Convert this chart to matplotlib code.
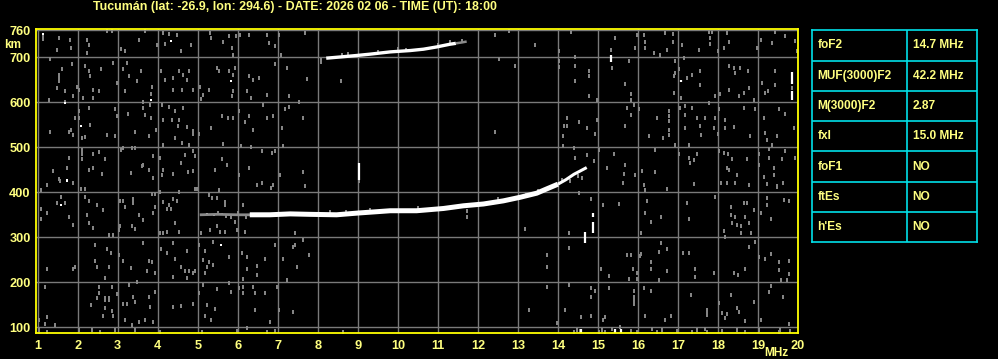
import numpy as np
import matplotlib
matplotlib.use("Agg")
import matplotlib.pyplot as plt

# Data
title = "Tucumán (lat: -26.9, lon: 294.6) - DATE: 2026 02 06 - TIME (UT): 18:00"
freq_ticks = list(range(1, 21))
km_ticks = [100, 200, 300, 400, 500, 600, 700, 760]

# main F2 echo (frequency MHz, virtual height km)
f2_freq = [6.3, 6.8, 7.31, 7.8, 8.47, 9.02, 9.5, 9.81, 10.47, 11.14, 11.64, 12.14, 12.64, 13.06, 13.47, 13.68, 14.0]
f2_km = [350, 350, 352, 351, 350, 354, 357, 359, 359, 364, 370, 374, 381, 389, 398, 406, 418]
f2_tip_freq = [14.0, 14.2, 14.4, 14.55, 14.72]
f2_tip_km = [418, 428, 440, 447, 455]
f2_tail_freq = [5.05, 5.5, 6.0, 6.35]
f2_tail_km = [350, 351, 350, 350]

# second hop echo
hop2_freq = [8.21, 8.6, 8.97, 9.31, 9.81, 10.31, 10.64, 10.97, 11.3, 11.45]
hop2_km = [698, 701, 704, 707, 712, 715, 718, 723, 729, 731]
hop2_tail_freq = [11.45, 11.6, 11.72]
hop2_tail_km = [731, 733, 735]

# short vertical white echoes
bar_freq = [9.02, 14.87, 14.87, 14.68, 15.32, 17.08, 19.85, 19.85, 14.58, 15.43, 15.58]
bar_low = [428, 344, 309, 287, 690, 644, 640, 606, 88, 88, 88]
bar_high = [465, 355, 335, 312, 705, 650, 668, 625, 97, 97, 97]

# gray interference speckles
noise = [
    (1.12, 750), (1.12, 740), (1.52, 743), (1.81, 739), (1.83, 721), (1.47, 717), (2.22, 739), (2.27, 728),
    (2.22, 710), (2.72, 759), (2.85, 759), (3.68, 759), (3.08, 719), (3.18, 713), (3.52, 739), (3.97, 728),
    (4.14, 754), (4.27, 752), (4.47, 749), (4.18, 730), (4.58, 713), (4.83, 728), (5.31, 754), (5.33, 743),
    (5.64, 735), (5.77, 747), (6.06, 750), (6.27, 750), (6.72, 750), (6.77, 732), (6.93, 724), (7.02, 749),
    (7.08, 706), (5.96, 747), (5.85, 721), (5.89, 706),
    (1.31, 697), (1.6, 673), (1.53, 661), (1.53, 654), (1.53, 647), (1.47, 632), (1.67, 624), (1.85, 685),
    (1.97, 635), (2.02, 628), (1.89, 613), (2.18, 680), (2.27, 669), (2.31, 658), (2.39, 628), (2.52, 624),
    (2.39, 610), (2.14, 610), (1.27, 606), (1.68, 601), (2.58, 673), (2.87, 687), (2.97, 643), (3.14, 673),
    (3.22, 687), (3.27, 658), (3.47, 648), (3.58, 669), (3.18, 624), (3.85, 635), (3.83, 618), (3.64, 601),
    (4.08, 670), (4.18, 650), (4.39, 654), (4.53, 670), (4.64, 661), (4.72, 650), (4.77, 669), (4.38, 628),
    (4.6, 628), (4.87, 628), (5.06, 635), (5.08, 608), (5.27, 628), (5.14, 617), (5.47, 676), (5.52, 669),
    (5.78, 669), (5.89, 661), (5.89, 624), (5.85, 613), (5.93, 676), (6.27, 658), (6.39, 650), (6.52, 654),
    (6.22, 624), (6.33, 610), (6.72, 617), (6.92, 685), (7.22, 676), (7.27, 613),
    (2.02, 580), (2.02, 565), (1.93, 565), (1.77, 535), (1.83, 539), (1.31, 535), (1.87, 527), (2.1, 521),
    (2.18, 522), (2.31, 550), (2.27, 587), (2.72, 527), (2.93, 526), (2.93, 584), (2.97, 569), (3.25, 574),
    (3.43, 534), (3.64, 587), (3.68, 572), (3.83, 565), (3.77, 524), (3.95, 539), (3.81, 593), (4.1, 593),
    (4.27, 589), (4.14, 561), (4.35, 561), (4.52, 561), (4.43, 580), (4.64, 587), (4.5, 547), (4.72, 545),
    (4.89, 529), (5.02, 529), (4.87, 537), (4.43, 521), (4.6, 510), (4.14, 504), (4.78, 504), (5.32, 543),
    (5.6, 569), (5.75, 565), (5.89, 565), (6.03, 580), (6.29, 569), (6.18, 556), (6.39, 539), (6.64, 593),
    (6.74, 565), (6.89, 569), (7.1, 543), (7.18, 584), (7.28, 589), (5.64, 507), (6.08, 502), (6.33, 500),
    (7.12, 502),
    (2.1, 495), (2.1, 485), (2.1, 475), (1.77, 476), (1.37, 447), (1.72, 454), (1.54, 430), (2.39, 484),
    (2.52, 490), (2.68, 475), (2.39, 454), (2.6, 441), (2.27, 450), (3.08, 493), (3.14, 498), (3.35, 498),
    (3.43, 498), (3.89, 481), (4.06, 476), (3.77, 450), (3.64, 460), (4.14, 450), (4.39, 441), (4.58, 465),
    (4.68, 482), (4.89, 491), (4.92, 480), (4.75, 445), (4.89, 447), (5.6, 473), (5.72, 461), (5.43, 450),
    (6.02, 439), (6.27, 454), (6.6, 491), (6.85, 487), (6.93, 491), (7.06, 439), (3.89, 432), (4.1, 439),
    (3.33, 443), (3.6, 458),
    (7.68, 754), (7.72, 652), (8.08, 695), (8.08, 690), (8.58, 648), (7.53, 601), (7.62, 565), (7.62, 445),
    (12.43, 750), (12.78, 759), (13.43, 728), (12.53, 696), (12.93, 680), (12.43, 534),
    (14.33, 756), (14.02, 713), (14.02, 691), (14.02, 678), (14.43, 700), (14.43, 680), (14.43, 647),
    (14.77, 669), (14.77, 658), (14.78, 615), (14.97, 604), (15.32, 717), (15.35, 676), (15.43, 743),
    (15.68, 641), (15.78, 691), (15.83, 618), (15.83, 606), (15.93, 721), (15.97, 750), (16.14, 750),
    (16.18, 735), (16.18, 721), (16.39, 710), (16.56, 706), (16.68, 754), (16.72, 717), (16.87, 752),
    (16.87, 735), (16.93, 691), (16.89, 658), (16.93, 665), (16.89, 621), (17.02, 673), (17.1, 728),
    (17.14, 698), (17.08, 610), (17.22, 654), (17.35, 661), (17.56, 669), (17.56, 639), (17.52, 717),
    (17.77, 757), (17.79, 743), (17.79, 729), (17.85, 757), (18.0, 713), (18.14, 721), (18.22, 754),
    (18.27, 735), (18.27, 680), (18.39, 676), (18.43, 665), (18.56, 676), (18.64, 621), (18.52, 613),
    (18.77, 632), (18.75, 669), (18.89, 606), (18.97, 721), (19.08, 739), (19.1, 643), (19.18, 621),
    (19.25, 624), (19.35, 732), (19.43, 757), (19.43, 669), (19.43, 638), (19.68, 747), (19.93, 737),
    (19.97, 715), (18.04, 618), (18.27, 628), (17.93, 613), (19.85, 632),
    (14.22, 565), (14.14, 547), (14.22, 547), (14.12, 524), (14.12, 502), (14.52, 556), (14.72, 543),
    (14.93, 529), (14.97, 561), (15.68, 547), (15.72, 587), (15.83, 572), (15.89, 595), (16.02, 584),
    (16.27, 524), (16.47, 565), (16.62, 521), (16.77, 581), (16.77, 569), (16.77, 558), (16.78, 539),
    (16.78, 527), (16.93, 506), (17.06, 587), (17.18, 591), (17.18, 571), (17.35, 587), (17.27, 506),
    (17.17, 543), (17.47, 565), (17.56, 547), (17.58, 528), (17.68, 565), (17.77, 598), (17.89, 543),
    (17.93, 565), (18.0, 530), (18.02, 584), (18.18, 561), (18.18, 543), (18.39, 545), (18.64, 587),
    (18.81, 524), (18.93, 584), (19.14, 565), (19.18, 532), (19.22, 517), (19.35, 506), (19.47, 524),
    (19.52, 584), (19.68, 574), (19.89, 543),
    (14.39, 498), (14.43, 476), (14.72, 482), (14.89, 469), (15.02, 495), (15.22, 454), (15.39, 485),
    (15.67, 460), (15.64, 441), (15.93, 439), (16.1, 447), (16.43, 495), (16.43, 445), (17.02, 484),
    (17.27, 476), (17.31, 465), (17.39, 472), (17.47, 484), (18.02, 491), (18.14, 487), (18.25, 484),
    (18.35, 473), (18.22, 454), (18.27, 450), (18.47, 439), (18.72, 473), (19.02, 485), (19.27, 497),
    (19.27, 476), (19.02, 461), (19.14, 433), (19.39, 454), (19.6, 473), (19.68, 491), (19.93, 476),
    (19.39, 439),
    (1.56, 424), (1.22, 416), (1.08, 404), (1.87, 420), (2.08, 407), (2.18, 407), (1.58, 390), (1.68, 377),
    (1.47, 376), (2.17, 390), (2.27, 381), (2.47, 372), (2.64, 361), (2.22, 350), (1.08, 362), (1.22, 353),
    (1.08, 340), (1.77, 344), (1.87, 327), (2.27, 332), (2.39, 320), (2.77, 305), (2.89, 305), (3.06, 324),
    (3.02, 316), (3.18, 368), (3.06, 381), (3.14, 381), (3.37, 384), (3.37, 376), (3.53, 350), (3.35, 324),
    (3.43, 318), (3.64, 338), (3.87, 353), (3.93, 368), (3.85, 396), (3.93, 396), (4.06, 401), (4.12, 379),
    (4.22, 362), (4.33, 362), (4.27, 372), (4.39, 384), (4.47, 381), (4.53, 401), (4.43, 331), (4.22, 312),
    (4.06, 310), (4.14, 310), (4.53, 312), (4.93, 407), (4.98, 407), (5.27, 394), (5.35, 387), (5.47, 387),
    (5.52, 405), (5.68, 379), (5.68, 372), (5.08, 309), (5.31, 316), (5.47, 324), (5.56, 312), (5.68, 312),
    (5.83, 346), (5.93, 335), (5.97, 316), (6.14, 372), (6.18, 312), (6.47, 416), (6.6, 420), (6.87, 416),
    (6.83, 409),
    (2.43, 283), (2.72, 273), (2.83, 266), (2.43, 248), (2.47, 233), (2.77, 233), (2.68, 210), (3.02, 261),
    (3.14, 248), (3.33, 231), (3.47, 201), (3.62, 288), (3.77, 248), (3.85, 244), (3.72, 226), (3.93, 221),
    (4.08, 273), (4.22, 266), (4.38, 288), (4.43, 251), (4.58, 235), (4.72, 270), (4.67, 226), (4.72, 209),
    (4.78, 226), (4.89, 221), (4.93, 226), (4.38, 212), (5.03, 283), (5.18, 270), (5.12, 250), (5.22, 233),
    (5.37, 290), (5.27, 244), (5.39, 238), (5.18, 221), (5.77, 257), (6.1, 266), (6.22, 256), (6.22, 229),
    (6.14, 207), (6.47, 216), (6.47, 236), (6.68, 251), (6.93, 283), (7.14, 251), (7.22, 204), (1.22, 229),
    (1.92, 233), (1.89, 229),
    (1.18, 190), (2.52, 189), (2.85, 189), (2.52, 177), (2.68, 142), (2.85, 137), (2.89, 124), (2.64, 125),
    (2.33, 150), (2.47, 164), (2.97, 174), (3.14, 152), (3.22, 152), (3.37, 168), (3.43, 157), (3.29, 194),
    (3.77, 168), (3.81, 144), (3.93, 179), (3.18, 116), (3.35, 105), (3.52, 112), (3.68, 116), (3.89, 112),
    (4.39, 144), (4.58, 147), (4.89, 152), (5.02, 177), (5.12, 194), (5.22, 150), (5.18, 125), (5.33, 116),
    (5.43, 140), (5.47, 184), (5.83, 179), (5.78, 198), (6.02, 187), (6.14, 189), (6.14, 176), (6.39, 189),
    (6.43, 177), (6.68, 177), (6.97, 189), (6.43, 138), (6.81, 112), (7.02, 138), (1.22, 122), (1.02, 116),
    (1.18, 107), (1.43, 105), (1.02, 96), (1.02, 90), (1.22, 90), (2.02, 94), (2.35, 95), (2.56, 90),
    (2.93, 95), (3.43, 95), (4.06, 90), (5.1, 90), (5.97, 92), (6.22, 98), (6.72, 90), (6.93, 92),
    (2.68, 164), (2.78, 164), (2.68, 160), (2.78, 160),
    (7.68, 413), (9.02, 425), (7.43, 310), (7.62, 295), (7.39, 279), (7.43, 283), (7.78, 261), (7.47, 235),
    (7.37, 135), (8.62, 90), (11.72, 359), (11.72, 346), (13.18, 318), (13.27, 138),
    (15.62, 421), (16.14, 416), (16.18, 404), (16.72, 407), (17.39, 418), (18.08, 421), (18.22, 421),
    (18.42, 421), (18.78, 416), (19.22, 418), (19.47, 411), (19.62, 421), (14.52, 398), (14.83, 385),
    (15.12, 372), (15.53, 374), (16.22, 381), (16.18, 355), (16.33, 333), (16.58, 346), (16.08, 309),
    (17.22, 377), (17.28, 341), (17.93, 390), (18.33, 368), (18.33, 350), (18.43, 344), (18.35, 331),
    (18.47, 327), (18.64, 376), (18.72, 377), (18.68, 346), (18.89, 361), (18.78, 331), (18.58, 324),
    (18.14, 315), (18.58, 310), (18.83, 310), (19.08, 353), (19.33, 341), (19.22, 387), (19.22, 372),
    (19.47, 413), (19.64, 383), (19.78, 381), (18.93, 290), (18.78, 279), (18.18, 301), (14.27, 310),
    (14.28, 276), (13.72, 261), (13.72, 235), (15.72, 261), (15.83, 261), (16.04, 258), (16.08, 263),
    (16.33, 246), (16.33, 229), (16.53, 268), (16.58, 288), (16.72, 275), (16.72, 226), (15.87, 229),
    (15.97, 220), (15.28, 214), (15.08, 229), (15.77, 207), (15.97, 207), (16.53, 204), (17.12, 266),
    (17.28, 266), (17.43, 229), (17.43, 212), (17.89, 221), (18.39, 221), (18.5, 216), (18.68, 229),
    (19.02, 256), (19.18, 251), (19.33, 263), (19.52, 246), (19.52, 227), (19.77, 248), (19.77, 218),
    (19.58, 205), (19.73, 204), (13.72, 190), (14.28, 194), (14.83, 187), (14.93, 181), (14.83, 167),
    (14.18, 138), (14.58, 122), (14.83, 125), (15.18, 122), (15.12, 116), (15.28, 187), (15.89, 181),
    (15.89, 167), (15.89, 159), (15.89, 152), (16.14, 187), (16.33, 181), (16.18, 125), (16.68, 116),
    (16.83, 125), (17.33, 172), (17.72, 138), (17.72, 127), (17.72, 132), (18.02, 155), (18.1, 131),
    (18.22, 129), (18.18, 120), (18.33, 172), (18.47, 142), (18.53, 135), (18.68, 115), (18.89, 157),
    (19.08, 116), (19.33, 192), (19.28, 179), (19.62, 168), (19.78, 107), (13.97, 110), (15.56, 101),
    (14.39, 90), (14.47, 95), (14.56, 92), (15.02, 90), (15.1, 94), (15.18, 90), (15.35, 96), (15.83, 92),
    (15.97, 90), (16.35, 96), (16.47, 90), (16.6, 93), (16.97, 92), (17.35, 90), (17.47, 95), (17.68, 96),
    (17.72, 90), (18.1, 92), (18.47, 95), (18.68, 90), (19.02, 93), (19.52, 90), (19.56, 95), (19.81, 92),
    # fringes round the echoes
    (5.5, 353), (5.7, 348), (6.0, 354), (6.2, 346), (8.3, 356), (8.7, 357), (9.3, 361), (10.5, 365),
    (12.5, 386), (13.2, 394), (13.5, 403), (14.1, 428), (14.3, 425), (14.5, 437), (14.6, 432),
    (8.6, 706), (8.75, 707), (9.5, 712), (10.0, 719), (10.2, 717), (11.0, 728), (11.3, 733), (11.6, 737),
]
white_dots = [(1.12, 752), (4.33, 737), (5.83, 647), (1.68, 598), (3.83, 606), (2.07, 548), (1.72, 428),
              (1.58, 372), (1.72, 424), (5.58, 283), (5.22, 351), (5.4, 350), (5.6, 351)]

# ionospheric parameter table
param_names = ["foF2", "MUF(3000)F2", "M(3000)F2", "fxI", "foF1", "ftEs", "h'Es"]
param_values = ["14.7 MHz", "42.2 MHz", "2.87", "15.0 MHz", "NO", "NO", "NO"]

FONT = ['Liberation Sans', 'DejaVu Sans']
YEL = '#ffff00'
TXT = '#ffff80'
GRID = '#7a7a7a'

W, H = 998, 359
fig = plt.figure(figsize=(W / 100, H / 100), dpi=100, facecolor='black')
ax = fig.add_axes([35.5 / W, 1 - 333 / H, (798 - 35.5) / W, (333 - 29.3) / H])
ax.set_facecolor('black')
ax.set_xlim(0.945, 20.0)
ax.set_ylim(87.3, 762.2)

ax.set_xticks(freq_ticks)
ax.set_yticks(km_ticks)
ax.grid(color=GRID, linewidth=1.0)
ax.set_axisbelow(True)
ax.tick_params(length=0, colors=TXT, labelsize=9.2)
ax.tick_params(axis='x', pad=5)
ax.tick_params(axis='y', pad=3.5)
for lab in ax.get_xticklabels() + ax.get_yticklabels():
    lab.set_family(FONT)
    lab.set_fontweight('bold')
for s in ax.spines.values():
    s.set_color(YEL)
    s.set_linewidth(1.3)

# speckles
nf, nk = zip(*noise)
rect = [(-1, -1.5), (1, -1.5), (1, 1.5), (-1, 1.5)]
ax.plot(nf, nk, linestyle='none', marker=rect, ms=2.8, mew=0, color='#858585')
wf, wk = zip(*white_dots)
ax.plot(wf, wk, linestyle='none', marker='s', ms=2.0, mew=0, color='white')

# echoes
ax.plot(f2_tail_freq, f2_tail_km, color='#8a8a8a', linewidth=2.0, solid_capstyle='butt')
ax.plot(f2_freq, f2_km, color='white', linewidth=3.6, solid_capstyle='butt')
ax.plot(f2_tip_freq, f2_tip_km, color='white', linewidth=2.2, solid_capstyle='butt')
ax.plot(hop2_freq, hop2_km, color='white', linewidth=2.4, solid_capstyle='butt')
ax.plot(hop2_tail_freq, hop2_tail_km, color='#8a8a8a', linewidth=1.8, solid_capstyle='butt')
ax.vlines(bar_freq, bar_low, bar_high, color='white', linewidth=1.6)

fig.text(295 / W, 1 - 7 / H, title, color=TXT, ha='center', va='center',
         fontsize=8.9, fontweight='bold', family=FONT)
fig.text(13 / W, 1 - 45 / H, 'km', color=TXT, ha='center', va='center',
         fontsize=8.5, fontweight='bold', family=FONT)
fig.text(776 / W, 1 - 353 / H, 'MHz', color=TXT, ha='center', va='center',
         fontsize=8.6, fontweight='bold', family=FONT)

# table panel
tx = fig.add_axes([812.3 / W, 1 - 242.3 / H, (977 - 812.3) / W, (242.3 - 30.3) / H])
tx.set_xlim(812.3, 977)
tx.set_ylim(len(param_names), 0)
tx.set_facecolor('black')
tx.set_xticks([])
tx.set_yticks([])
for s in tx.spines.values():
    s.set_color('#00e0e8')
    s.set_linewidth(1.2)
for i in range(1, len(param_names)):
    tx.axhline(i, color='#00e0e8', linewidth=1.2)
tx.axvline(907, color='#00e0e8', linewidth=1.2)
for i, (name, val) in enumerate(zip(param_names, param_values)):
    tx.text(817.3, i + 0.5, name, color=TXT, va='center', ha='left', fontsize=8.6, fontweight='bold', family=FONT)
    tx.text(912.7, i + 0.5, val, color=TXT, va='center', ha='left', fontsize=8.6, fontweight='bold', family=FONT)

fig.savefig('out.png', dpi=100, facecolor='black')
